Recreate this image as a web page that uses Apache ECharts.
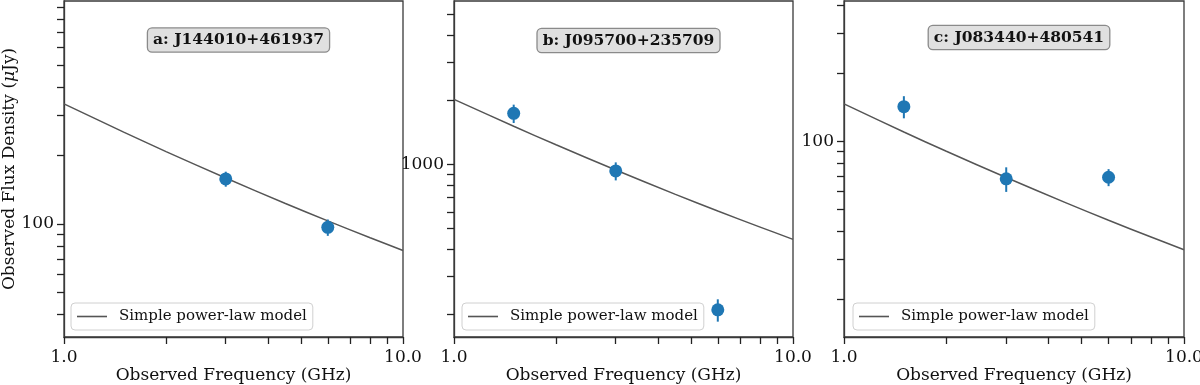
<!DOCTYPE html>
<html>
<head>
<meta charset="utf-8">
<script src="https://cdn.jsdelivr.net/npm/echarts@6/dist/echarts.min.js"></script>
<style>
  html, body { margin: 0; padding: 0; background: #fff; }
  #chart { width: 1200px; height: 385px; }
</style>
</head>
<body>
<div id="chart"></div>
<script>
// model curve, sampled along the drawn line
const freqModel = [1, 1.5, 2, 3, 4.5, 6, 8, 10];
const modelA = [338, 254, 208.5, 159.4, 123.2, 103.2, 87.0, 76.4];
const modelB = [2012, 1506, 1234, 940, 724, 605, 509, 446];
const modelC = [146.4, 109.9, 90.3, 69.1, 53.4, 44.7, 37.7, 33.1];

// measurements (GHz, uJy, error)
const freqA = [3, 6];
const fluxA = [158, 96.7];
const errA = [12, 8];
const freqB = [1.5, 3, 6];
const fluxB = [1730, 931, 209];
const errB = [170, 90, 25];
const freqC = [1.5, 3, 6];
const fluxC = [142.4, 68.2, 69.3];
const errC = [16, 8.5, 6];

const titles = ['a: J144010+461937', 'b: J095700+235709', 'c: J083440+480541'];
const yRanges = [[31.8, 960], [156, 5795], [13.6, 418]];
const yLabelValues = [[100], [1000], [100]];
const xTickValues = [1, 2, 3, 4, 5, 6, 7, 8, 9, 10];
const xLabelValues = [1, 10];

const panels = [
  { model: modelA, freq: freqA, flux: fluxA, err: errA, left: 64, width: 339, boxX: 238.5, boxY: 40, legendLeft: 71 },
  { model: modelB, freq: freqB, flux: fluxB, err: errB, left: 454, width: 339, boxX: 628.5, boxY: 40.5, legendLeft: 462 },
  { model: modelC, freq: freqC, flux: fluxC, err: errC, left: 844, width: 340, boxX: 1019, boxY: 37.5, legendLeft: 853 }
];

const FONT = 'DejaVu Serif';
const lg = Math.log10;

function minorTicks(range) {
  const out = [];
  for (let e = -1; e < 6; e++) {
    for (let m = 1; m < 10; m++) {
      const v = m * Math.pow(10, e);
      if (v >= range[0] && v <= range[1]) out.push(lg(v));
    }
  }
  return out;
}

const grid = [], xAxis = [], yAxis = [], series = [], legend = [], graphic = [];

panels.forEach((p, i) => {
  grid.push({
    left: p.left, top: 1, width: p.width, height: 336,
    outerBoundsMode: 'none', containLabel: false,
    show: true, borderColor: '#3a3a3a', borderWidth: 1.3, backgroundColor: 'transparent'
  });
  xAxis.push({
    gridIndex: i, type: 'value', min: 0, max: 1,
    axisLine: { show: true, lineStyle: { color: '#3a3a3a', width: 1.3 } },
    axisTick: { show: true, customValues: xTickValues.map(lg), length: 7, lineStyle: { color: '#222', width: 1.3 } },
    axisLabel: {
      customValues: xLabelValues.map(lg), formatter: v => Math.pow(10, v).toFixed(1),
      margin: 12, fontFamily: FONT, fontSize: 17, color: '#111'
    },
    splitLine: { show: false },
    name: 'Observed Frequency (GHz)', nameLocation: 'middle', nameGap: 30, nameMoveOverlap: false,
    nameTextStyle: { fontFamily: FONT, fontSize: 17, color: '#111' }
  });
  const yr = yRanges[i];
  yAxis.push({
    gridIndex: i, type: 'value', min: lg(yr[0]), max: lg(yr[1]),
    axisLine: { show: true, lineStyle: { color: '#3a3a3a', width: 1.3 } },
    axisTick: { show: true, customValues: minorTicks(yr), length: 7, lineStyle: { color: '#222', width: 1.3 } },
    axisLabel: {
      customValues: yLabelValues[i].map(lg), formatter: v => String(Math.round(Math.pow(10, v))),
      margin: 10, fontFamily: FONT, fontSize: 17, color: '#111'
    },
    splitLine: { show: false },
    name: i === 0 ? 'Observed Flux Density ({i|\u03bc}Jy)' : '',
    nameLocation: 'middle', nameGap: 37,
    nameTextStyle: {
      fontFamily: FONT, fontSize: 17, color: '#111',
      rich: { i: { fontFamily: FONT, fontSize: 17, fontStyle: 'italic', color: '#111' } }
    }
  });

  series.push({
    name: 'Simple power-law model', type: 'line', xAxisIndex: i, yAxisIndex: i,
    data: freqModel.map((f, k) => [lg(f), lg(p.model[k])]),
    smooth: 0.3, symbol: 'none', lineStyle: { color: '#555', width: 1.5 }, itemStyle: { color: '#555' },
    z: 2, silent: true
  });
  series.push({
    type: 'custom', xAxisIndex: i, yAxisIndex: i,
    data: p.freq.map((f, k) => [lg(f), lg(p.flux[k] - p.err[k]), lg(p.flux[k] + p.err[k])]),
    renderItem: (params, api) => {
      const a = api.coord([api.value(0), api.value(1)]);
      const b = api.coord([api.value(0), api.value(2)]);
      return { type: 'line', shape: { x1: a[0], y1: a[1], x2: b[0], y2: b[1] }, style: { stroke: '#1f77b4', lineWidth: 2 } };
    },
    z: 3, silent: true
  });
  series.push({
    type: 'scatter', xAxisIndex: i, yAxisIndex: i,
    data: p.freq.map((f, k) => [lg(f), lg(p.flux[k])]),
    symbolSize: 13, itemStyle: { color: '#1f77b4', opacity: 1 },
    z: 4, silent: true
  });

  legend.push({
    data: [{ name: 'Simple power-law model', icon: 'rect' }], left: p.legendLeft, top: 303,
    orient: 'vertical', selectedMode: false,
    itemWidth: 30, itemHeight: 1.6,
    backgroundColor: '#fff', borderColor: '#d0d0d0', borderWidth: 1, borderRadius: 4,
    padding: [6, 6],
    itemStyle: { color: '#555' },
    textStyle: { fontFamily: FONT, fontSize: 15, color: '#111', padding: [0, 0, 0, 7] }
  });

  graphic.push({
    type: 'text', x: p.boxX, y: p.boxY, z: 10,
    style: {
      text: titles[i], font: 'bold 15.5px "DejaVu Serif"', fill: '#111',
      align: 'center', verticalAlign: 'middle',
      backgroundColor: '#e0e0e0', borderColor: '#8a8a8a', borderWidth: 1.3, borderRadius: 4,
      padding: [4, 5, 3, 5]
    }
  });
});

const chart = echarts.init(document.getElementById('chart'), null, { renderer: 'canvas' });
chart.setOption({
  animation: false,
  backgroundColor: '#fff',
  grid, xAxis, yAxis, series, legend, graphic
});
</script>
</body>
</html>
